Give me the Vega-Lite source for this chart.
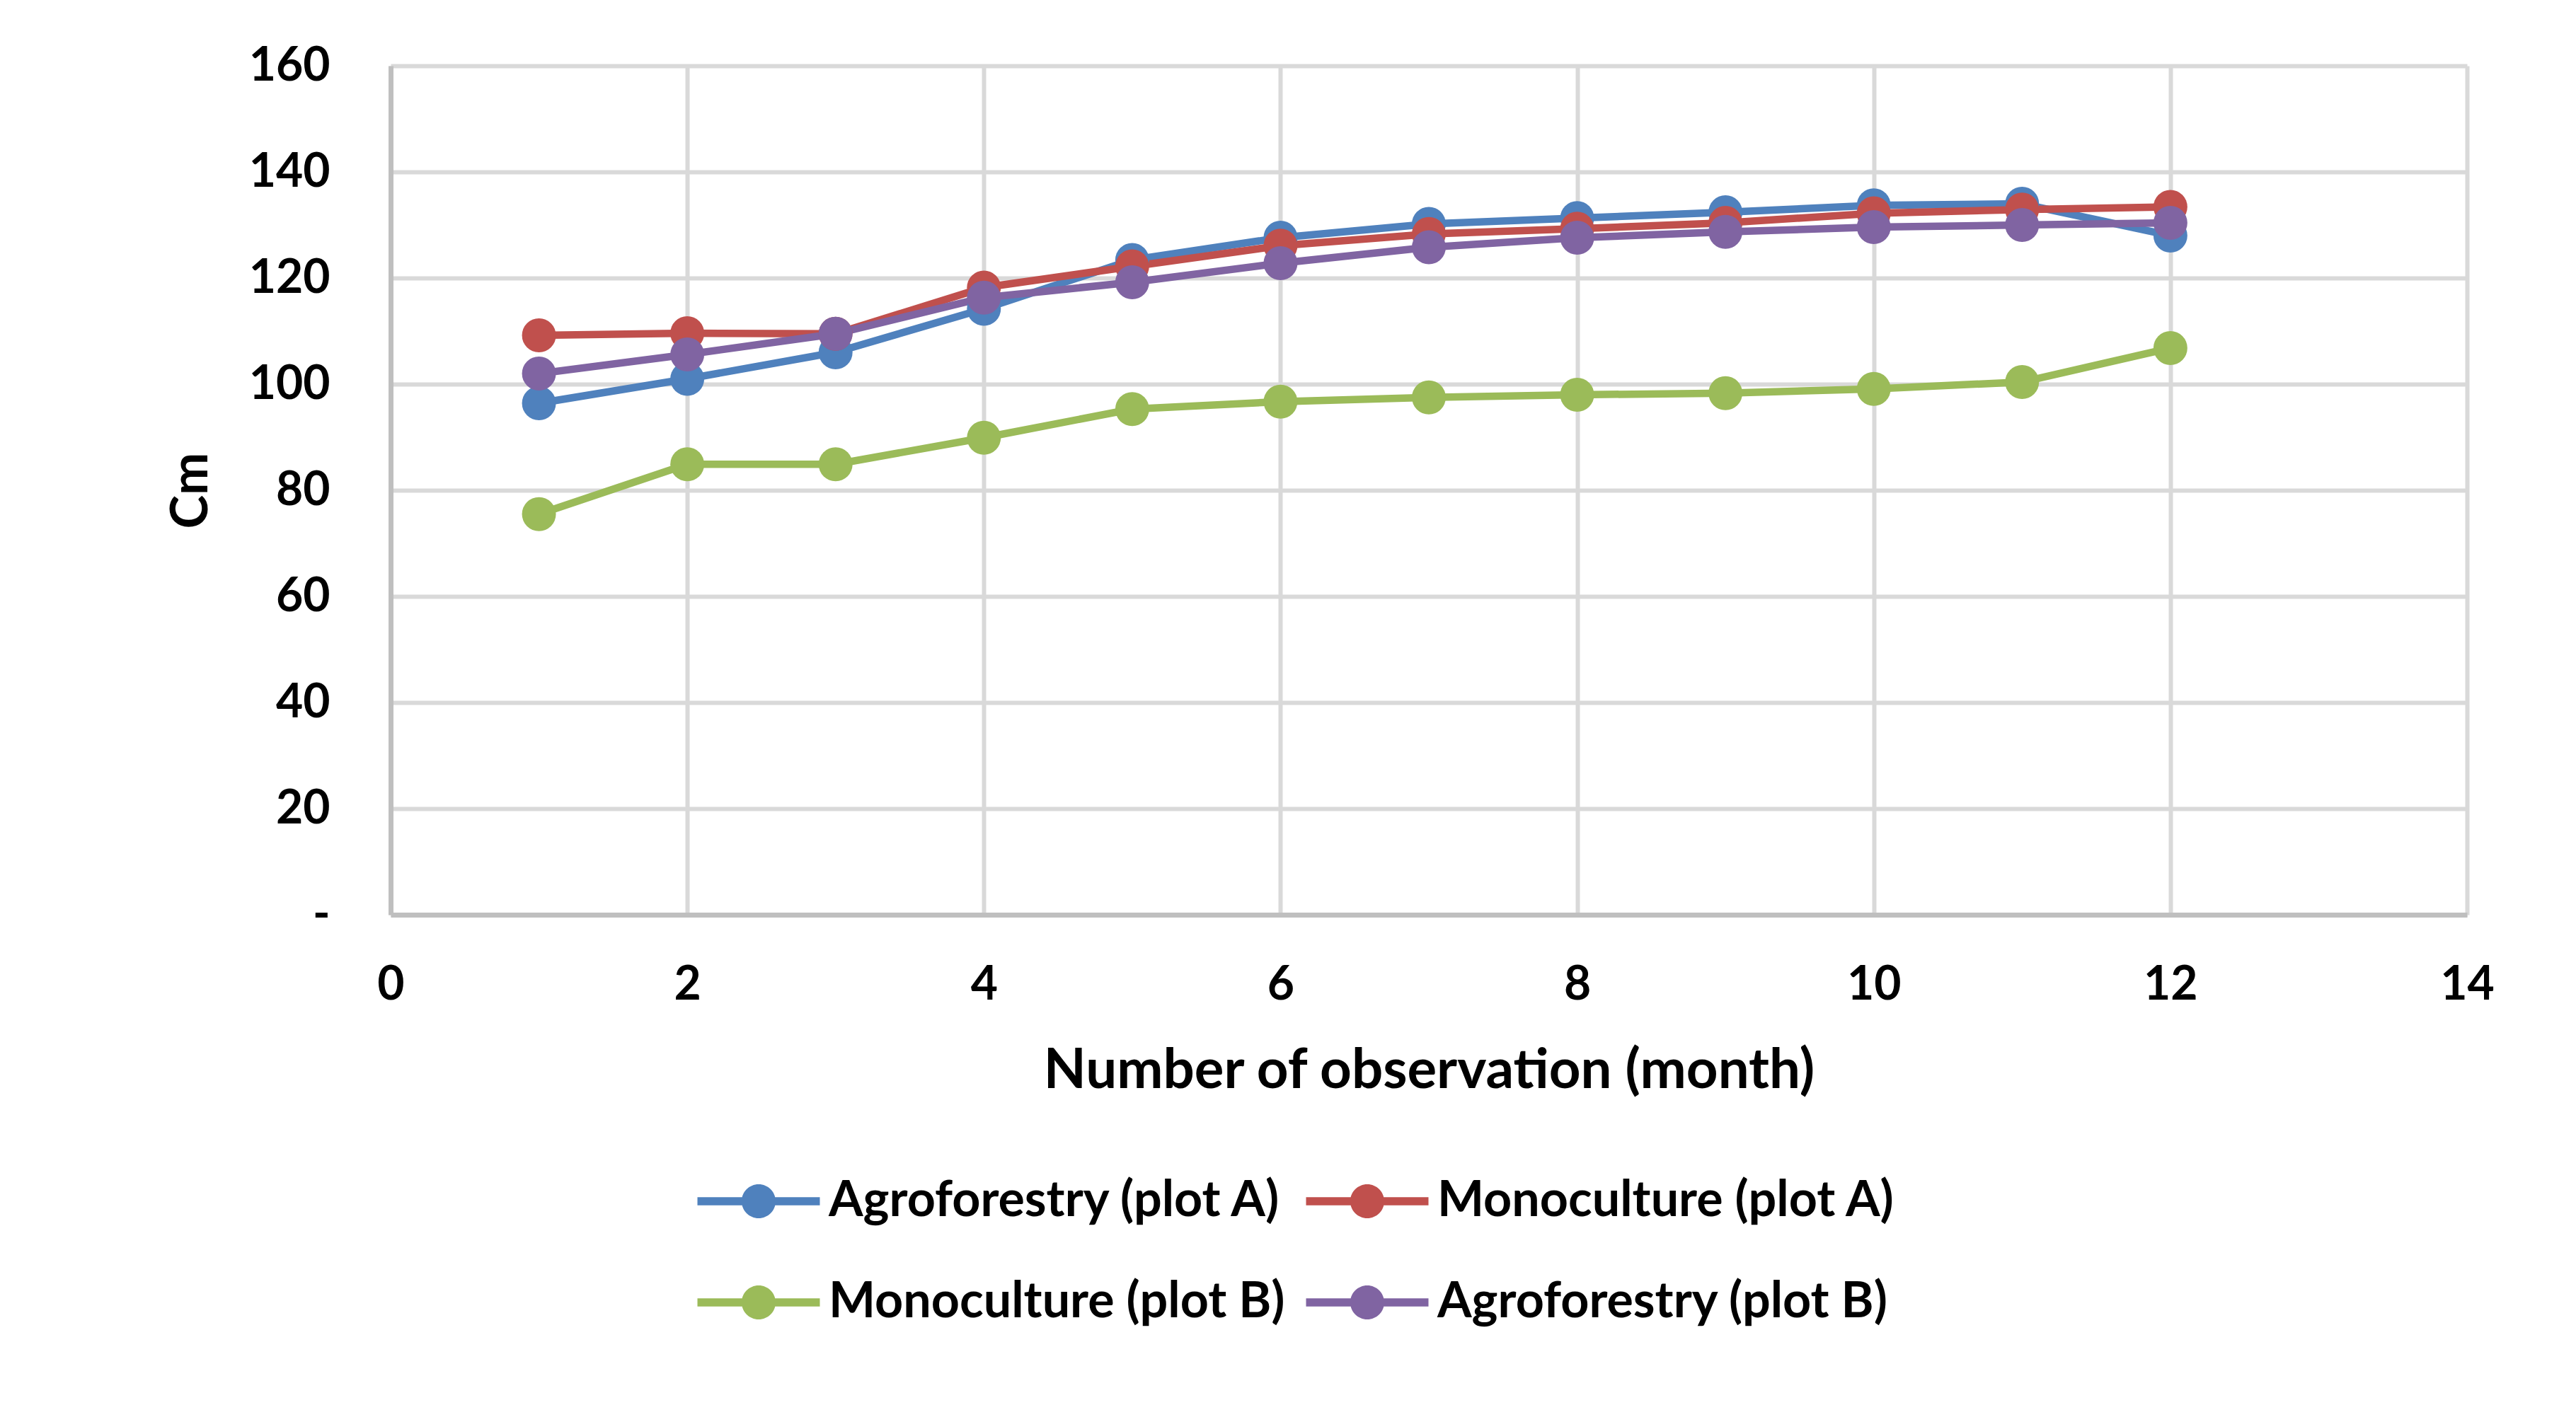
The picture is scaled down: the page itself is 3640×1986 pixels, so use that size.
{
  "$schema": "https://vega.github.io/schema/vega-lite/v6.json",
  "autosize": {"type": "none"},
  "width": 2934,
  "height": 1200,
  "padding": {"left": 552, "top": 93, "right": 154, "bottom": 693},
  "background": "white",
  "config": {
    "font": "Lato",
    "view": {"stroke": null},
    "axis": {
      "labelFont": "Lato", "labelFontWeight": "bold", "labelColor": "#000000", "labelFontSize": 66,
      "titleFont": "Lato", "titleFontWeight": "bold", "titleColor": "#000000", "titleFontSize": 72,
      "gridColor": "#D9D9D9", "gridWidth": 6, "gridOpacity": 1,
      "domainColor": "#BFBFBF", "domainWidth": 7,
      "ticks": false, "tickSize": 0, "labelFlush": false
    },
    "legend": {
      "labelFont": "Lato", "labelFontWeight": "bold", "labelColor": "#000000", "labelFontSize": 70, "labelLimit": 2000
    }
  },
  "data": {
    "values": [
      {"month": 1, "series": "Agroforestry (plot A)", "cm": 96.4},
      {"month": 2, "series": "Agroforestry (plot A)", "cm": 101.0},
      {"month": 3, "series": "Agroforestry (plot A)", "cm": 106.0},
      {"month": 4, "series": "Agroforestry (plot A)", "cm": 114.2},
      {"month": 5, "series": "Agroforestry (plot A)", "cm": 123.4},
      {"month": 6, "series": "Agroforestry (plot A)", "cm": 127.6},
      {"month": 7, "series": "Agroforestry (plot A)", "cm": 130.2},
      {"month": 8, "series": "Agroforestry (plot A)", "cm": 131.3},
      {"month": 9, "series": "Agroforestry (plot A)", "cm": 132.4},
      {"month": 10, "series": "Agroforestry (plot A)", "cm": 133.7},
      {"month": 11, "series": "Agroforestry (plot A)", "cm": 134.0},
      {"month": 12, "series": "Agroforestry (plot A)", "cm": 128.0},
      {"month": 1, "series": "Monoculture (plot A)", "cm": 109.2},
      {"month": 2, "series": "Monoculture (plot A)", "cm": 109.6},
      {"month": 3, "series": "Monoculture (plot A)", "cm": 109.5},
      {"month": 4, "series": "Monoculture (plot A)", "cm": 118.2},
      {"month": 5, "series": "Monoculture (plot A)", "cm": 122.2},
      {"month": 6, "series": "Monoculture (plot A)", "cm": 126.1},
      {"month": 7, "series": "Monoculture (plot A)", "cm": 128.3},
      {"month": 8, "series": "Monoculture (plot A)", "cm": 129.3},
      {"month": 9, "series": "Monoculture (plot A)", "cm": 130.4},
      {"month": 10, "series": "Monoculture (plot A)", "cm": 132.2},
      {"month": 11, "series": "Monoculture (plot A)", "cm": 132.9},
      {"month": 12, "series": "Monoculture (plot A)", "cm": 133.4},
      {"month": 1, "series": "Monoculture (plot B)", "cm": 75.5},
      {"month": 2, "series": "Monoculture (plot B)", "cm": 84.9},
      {"month": 3, "series": "Monoculture (plot B)", "cm": 84.9},
      {"month": 4, "series": "Monoculture (plot B)", "cm": 89.9},
      {"month": 5, "series": "Monoculture (plot B)", "cm": 95.3},
      {"month": 6, "series": "Monoculture (plot B)", "cm": 96.7},
      {"month": 7, "series": "Monoculture (plot B)", "cm": 97.5},
      {"month": 8, "series": "Monoculture (plot B)", "cm": 98.0},
      {"month": 9, "series": "Monoculture (plot B)", "cm": 98.3},
      {"month": 10, "series": "Monoculture (plot B)", "cm": 99.1},
      {"month": 11, "series": "Monoculture (plot B)", "cm": 100.4},
      {"month": 12, "series": "Monoculture (plot B)", "cm": 106.8},
      {"month": 1, "series": "Agroforestry (plot B)", "cm": 102.0},
      {"month": 2, "series": "Agroforestry (plot B)", "cm": 105.6},
      {"month": 3, "series": "Agroforestry (plot B)", "cm": 109.5},
      {"month": 4, "series": "Agroforestry (plot B)", "cm": 116.3},
      {"month": 5, "series": "Agroforestry (plot B)", "cm": 119.2},
      {"month": 6, "series": "Agroforestry (plot B)", "cm": 122.8},
      {"month": 7, "series": "Agroforestry (plot B)", "cm": 125.8},
      {"month": 8, "series": "Agroforestry (plot B)", "cm": 127.6},
      {"month": 9, "series": "Agroforestry (plot B)", "cm": 128.7},
      {"month": 10, "series": "Agroforestry (plot B)", "cm": 129.6},
      {"month": 11, "series": "Agroforestry (plot B)", "cm": 130.0},
      {"month": 12, "series": "Agroforestry (plot B)", "cm": 130.4}
    ]
  },
  "encoding": {
    "x": {
      "field": "month", "type": "quantitative",
      "scale": {"domain": [0, 14], "nice": false, "zero": false},
      "axis": {"title": "Number of observation (month)", "titleFontSize": 78, "values": [0, 2, 4, 6, 8, 10, 12, 14], "labelPadding": 67, "titlePadding": 50}
    },
    "y": {
      "field": "cm", "type": "quantitative",
      "scale": {"domain": [0, 160], "nice": false},
      "axis": {"title": "Cm", "values": [0, 20, 40, 60, 80, 100, 120, 140, 160], "labelPadding": 86, "titlePadding": 45,
               "labelExpr": "datum.value == 0 ? '-' : datum.label"}
    },
    "color": {
      "field": "series", "type": "nominal",
      "scale": {
        "domain": ["Agroforestry (plot A)", "Monoculture (plot A)", "Monoculture (plot B)", "Agroforestry (plot B)"],
        "range": ["#4F81BD", "#C0504D", "#9BBB59", "#8064A2"]
      },
      "legend": {
        "title": null,
        "orient": "none",
        "direction": "horizontal",
        "columns": 2,
        "legendX": 428,
        "legendY": 1570,
        "rowPadding": 73,
        "columnPadding": 24,
        "symbolSize": 3600,
        "symbolOffset": 57,
        "labelOffset": 64,
        "labelLimit": 2000,
        "symbolType": "M -2.883 -0.19 L 2.883 -0.19 L 2.883 0.19 L -2.883 0.19 Z M 0.8 0 A 0.8 0.8 0 1 1 -0.8 0 A 0.8 0.8 0 1 1 0.8 0 Z",
        "symbolStrokeWidth": 0,
        "encode": {
          "symbols": {"update": {"fill": {"scale": "color", "field": "value"}, "stroke": {"value": "transparent"}, "opacity": {"value": 1}}}
        }
      }
    }
  },
  "layer": [
    {"mark": {"type": "line", "strokeWidth": 10.5}},
    {"mark": {"type": "point", "filled": true, "size": 2300, "opacity": 1, "shape": "circle"}}
  ]
}
